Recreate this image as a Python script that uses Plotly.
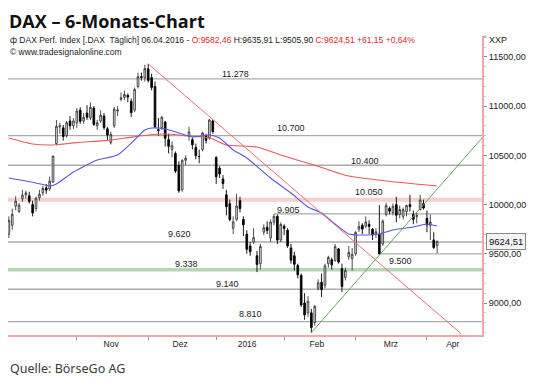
import plotly.graph_objects as go

# ---------------- data ----------------
dates = [
    "2015-10-05","2015-10-06","2015-10-07","2015-10-08","2015-10-09","2015-10-12","2015-10-13","2015-10-14",
    "2015-10-15","2015-10-16","2015-10-19","2015-10-20","2015-10-21","2015-10-22","2015-10-23","2015-10-26",
    "2015-10-27","2015-10-28","2015-10-29","2015-10-30",
    "2015-11-02","2015-11-03","2015-11-04","2015-11-05","2015-11-06","2015-11-09","2015-11-10","2015-11-11",
    "2015-11-12","2015-11-13","2015-11-16","2015-11-17","2015-11-18","2015-11-19","2015-11-20","2015-11-23",
    "2015-11-24","2015-11-25","2015-11-26","2015-11-27","2015-11-30",
    "2015-12-01","2015-12-02","2015-12-03","2015-12-04","2015-12-07","2015-12-08","2015-12-09","2015-12-10",
    "2015-12-11","2015-12-14","2015-12-15","2015-12-16","2015-12-17","2015-12-18","2015-12-21","2015-12-22",
    "2015-12-23","2015-12-28","2015-12-29","2015-12-30",
    "2016-01-04","2016-01-05","2016-01-06","2016-01-07","2016-01-08","2016-01-11","2016-01-12","2016-01-13",
    "2016-01-14","2016-01-15","2016-01-18","2016-01-19","2016-01-20","2016-01-21","2016-01-22","2016-01-25",
    "2016-01-26","2016-01-27","2016-01-28","2016-01-29",
    "2016-02-01","2016-02-02","2016-02-03","2016-02-04","2016-02-05","2016-02-08","2016-02-09","2016-02-10",
    "2016-02-11","2016-02-12","2016-02-15","2016-02-16","2016-02-17","2016-02-18","2016-02-19","2016-02-22",
    "2016-02-23","2016-02-24","2016-02-25","2016-02-26","2016-02-29",
    "2016-03-01","2016-03-02","2016-03-03","2016-03-04","2016-03-07","2016-03-08","2016-03-09","2016-03-10",
    "2016-03-11","2016-03-14","2016-03-15","2016-03-16","2016-03-17","2016-03-18","2016-03-21","2016-03-22",
    "2016-03-23","2016-03-24","2016-03-29","2016-03-30","2016-03-31",
    "2016-04-01","2016-04-04","2016-04-05","2016-04-06",
]

opens = [9700,9790,9985,9930,10060,10100,10090,10000,9960,10070,10120,10170,10160,10230,10620,10790,
         10780,10700,10850,10800,
         10830,10960,10850,10930,10880,10980,10800,10850,10900,10770,10630,10800,10950,11070,11090,11110,
         11050,10960,11200,11300,11290,
         11380,11290,11200,10760,10780,10840,10660,10560,10520,10400,10150,10450,10700,10660,10580,10490,
         10560,10700,10680,10850,
         10480,10370,10260,10100,10010,9760,9850,10040,9850,9700,9580,9620,9480,9400,9720,9770,9660,9820,
         9880,9640,
         9780,9740,9560,9480,9380,9280,9000,8900,8900,8800,9150,9210,9180,9400,9440,9430,9550,9350,9260,
         9470,9450,
         9500,9750,9790,9780,9800,9750,9700,9700,9600,9900,9960,9920,10000,9900,9880,9930,10000,9900,9880,
         9950,10010,
         9860,9790,9640,9582.46]
highs = [9880,9960,10085,10015,10150,10140,10130,10040,10080,10150,10190,10210,10285,10500,10860,10830,
         10810,10850,10900,10880,
         10980,10990,10930,11010,11040,11000,10860,10960,10930,10790,10740,10990,11000,11140,11160,11130,
         11080,11190,11340,11340,11420,
         11430,11330,11250,10880,10900,10850,10720,10640,10540,10440,10460,10500,10790,10680,10620,10560,
         10740,10720,10870,10860,
         10490,10390,10300,10150,10050,9880,10110,10080,9880,9740,9620,9760,9530,9600,9800,9830,9850,9905,
         9900,9820,
         9800,9760,9600,9520,9400,9300,9100,9070,8940,8980,9240,9300,9400,9480,9460,9600,9560,9400,9360,
         9580,9560,
         9730,9830,9810,9880,9840,9760,9760,9995,9850,10020,9980,10010,10080,9990,9970,10000,10100,9940,9920,
         10100,10050,
         9940,9900,9720,9635.91]
lows = [9660,9745,9945,9915,10030,10060,10010,9880,9930,10040,10090,10110,10140,10220,10600,10720,
        10650,10680,10760,10770,
        10780,10820,10820,10860,10860,10800,10760,10830,10760,10650,10610,10780,10900,11050,11060,11040,
        10890,10940,11180,11260,11250,
        11240,11160,10780,10700,10760,10590,10520,10480,10320,10120,10130,10400,10650,10560,10460,10420,
        10540,10620,10660,10720,
        10210,10270,10160,9890,9830,9700,9830,9920,9680,9500,9480,9600,9314,9340,9690,9700,9620,9790,
        9600,9620,
        9690,9560,9400,9330,9250,8960,8830,8860,8699,8770,9130,9060,9150,9360,9340,9420,9400,9110,9230,
        9440,9330,
        9480,9720,9700,9760,9700,9640,9660,9498,9580,9880,9900,9890,9820,9860,9850,9880,9930,9800,9810,
        9940,9950,
        9720,9640,9550,9505.90]
closes = [9840,9902,10035,9995,10096,10119,10032,9915,10064,10104,10164,10147,10238,10491,10795,10801,
          10692,10831,10801,10850,
          10951,10846,10887,10888,10988,10815,10832,10908,10782,10708,10713,10971,10959,11085,11119,11092,
          10934,11169,11300,11293,11382,
          11261,11190,10789,10752,10887,10673,10592,10598,10340,10140,10450,10470,10738,10608,10497,10488,
          10727,10653,10860,10743,
          10283,10310,10214,9979,9849,9825,9985,9960,9794,9545,9521,9664,9392,9574,9764,9736,9823,9880,
          9639,9798,
          9758,9581,9435,9393,9286,8980,8879,9018,8752,8967,9206,9135,9377,9463,9388,9573,9416,9167,9331,
          9513,9495,
          9717,9776,9751,9824,9778,9692,9723,9498,9831,9990,9933,9983,9892,9950,9948,9990,9979,9851,9887,
          10046,9966,
          9794,9822,9563.36,9624.51]

# moving averages at selected dates
ma_fast_dates = ["2015-10-05","2015-10-15","2015-10-21","2015-10-23","2015-10-30","2015-11-10","2015-11-18",
                 "2015-11-25","2015-11-30","2015-12-02","2015-12-08","2015-12-14","2015-12-18","2015-12-29",
                 "2016-01-05","2016-01-11","2016-01-15","2016-01-26","2016-02-03","2016-02-10","2016-02-16",
                 "2016-02-19","2016-02-26","2016-03-02","2016-03-10","2016-03-16","2016-03-24","2016-04-01",
                 "2016-04-06"]
ma_fast_vals = [10270,10220,10190,10210,10331,10453,10504,10657,10758,10778,10768,10728,10687,10707,
                10677,10555,10474,10270,10118,9976,9915,9830,9701,9691,9701,9742,9772,9803,9782]

ma_slow_dates = ["2015-10-05","2015-10-14","2015-10-22","2015-11-02","2015-11-12","2015-11-23","2015-12-01",
                 "2015-12-08","2015-12-17","2015-12-23","2015-12-30","2016-01-07","2016-01-20","2016-01-29",
                 "2016-02-12","2016-02-26","2016-03-14","2016-04-06"]
ma_slow_vals = [10677,10616,10606,10630,10650,10680,10707,10717,10697,10687,10667,10606,10585,10504,
                10400,10290,10240,10189]

# trend lines (trading-day index, value)
trend_down_x = [41, 133]
trend_down_y = [11430, 8690]
trend_up_x = [89, 141]
trend_up_y = [8699, 10748]

levels = [11278, 10700, 10400, 10050, 9905, 9620, 9500, 9338, 9140, 8810]
level_texts = ["11.278", "10.700", "10.400", "10.050", "9.905", "9.620", "9.500", "9.338", "9.140", "8.810"]

month_labels = ["Nov", "Dez", "2016", "Feb", "Mrz", "Apr"]
y_ticks = [9000, 9500, 10000, 10500, 11000, 11500]

# ---------------- styles / positions ----------------
level_start = [None, None, None, None, 78, None, 109, None, None, None]
level_label_x = [66.8, 82.9, 104.9, 106.0, 82.2, 50.2, 115.3, 52.3, 64.2, 71.2]
level_label_shift = [4.5, 8, 4.5, 8, 4, 7.5, -7, 5.5, 5.5, 7.5]
month_label_x = [30.1, 50.4, 70.1, 90.6, 112.4, 130.6]

X_RANGE = [-0.25, 139.2]
Y_RANGE = [8675, 11713]
OFF = 8                      # page body margin in the browser
W, H = 524, 373
ML, MT = 0, 28
PW, PH = 474, 299
MR, MB = W - ML - PW, H - MT - PH

def px_x(x):                 # page pixel -> paper x
    return (x - OFF - ML) / PW

def px_y(y):                 # page pixel -> paper y
    return (MT + PH - (y - OFF)) / PH

idx = {d: i for i, d in enumerate(dates)}
xs = list(range(len(dates)))

def de(v):
    return f"{v:.2f}".replace(".", ",")

fig = go.Figure()

fig.add_trace(go.Candlestick(
    x=xs, open=opens, high=highs, low=lows, close=closes,
    increasing=dict(line=dict(color="#3a3a3a", width=0.9), fillcolor="#ececec"),
    decreasing=dict(line=dict(color="#000000", width=0.9), fillcolor="#000000"),
    whiskerwidth=0, showlegend=False, hoverinfo="skip",
))

fig.add_trace(go.Scatter(x=[idx[d] for d in ma_slow_dates], y=ma_slow_vals, mode="lines",
                         line=dict(color="#e85a5a", width=1.1, shape="spline", smoothing=0.6),
                         showlegend=False, hoverinfo="skip"))
fig.add_trace(go.Scatter(x=[idx[d] for d in ma_fast_dates], y=ma_fast_vals, mode="lines",
                         line=dict(color="#5555e0", width=1.1, shape="spline", smoothing=0.6),
                         showlegend=False, hoverinfo="skip"))
fig.add_trace(go.Scatter(x=trend_down_x, y=trend_down_y, mode="lines",
                         line=dict(color="#e87070", width=1), showlegend=False, hoverinfo="skip"))
fig.add_trace(go.Scatter(x=trend_up_x, y=trend_up_y, mode="lines",
                         line=dict(color="#5fa85f", width=1), showlegend=False, hoverinfo="skip"))

shapes = []
annotations = []
for lv, txt, st, lx, sh in zip(levels, level_texts, level_start, level_label_x, level_label_shift):
    if lv == 10050:
        color, width = "rgba(240,160,160,0.5)", 4
    elif lv == 9338:
        color, width = "rgba(120,180,120,0.55)", 3.5
    else:
        color, width = "#ababab", 1.3
    if st is None:
        shapes.append(dict(type="line", xref="paper", yref="y", x0=0, x1=1, y0=lv, y1=lv,
                           line=dict(color=color, width=width), layer="below"))
    else:
        shapes.append(dict(type="line", xref="x", yref="y", x0=st, x1=X_RANGE[1], y0=lv, y1=lv,
                           line=dict(color=color, width=width), layer="below"))
    annotations.append(dict(x=lx, y=lv, xref="x", yref="y", text=txt, showarrow=False,
                            xanchor="center", yanchor="middle", yshift=sh,
                            font=dict(family="Liberation Sans", size=9, color="#1a1a1a")))

# month-start tick marks
month_starts = [i for i in range(1, len(dates)) if dates[i][5:7] != dates[i - 1][5:7]]

red = "#e3261f"
header = (f"ф DAX Perf. Index [.DAX  Täglich] 06.04.2016 - "
          f"<span style='color:{red}'>O:{de(opens[-1])}</span> H:{de(highs[-1])} L:{de(lows[-1])} "
          f"<span style='color:{red}'>C:{de(closes[-1])} +{de(closes[-1]-closes[-2])} "
          f"+{de((closes[-1]-closes[-2])/closes[-2]*100)}%</span>")

annotations += [
    dict(x=px_x(8), y=px_y(OFF), xref="paper", yref="paper", text="<b>DAX – 6-Monats-Chart</b>",
         showarrow=False, xanchor="left", yanchor="top", borderpad=0,
         font=dict(family="Open Sans", size=18, color="#111111")),
    dict(x=px_x(8), y=px_y(40), xref="paper", yref="paper", text=header,
         showarrow=False, xanchor="left", yanchor="middle",
         font=dict(family="Liberation Sans", size=8.5, color="#222222")),
    dict(x=px_x(8), y=px_y(52), xref="paper", yref="paper", text="© www.tradesignalonline.com",
         showarrow=False, xanchor="left", yanchor="middle",
         font=dict(family="Liberation Sans", size=8.5, color="#222222")),
    dict(x=px_x(487), y=px_y(40), xref="paper", yref="paper", text="XXP",
         showarrow=False, xanchor="left", yanchor="middle",
         font=dict(family="Liberation Sans", size=9, color="#222222")),
    dict(x=px_x(485), y=px_y(36), xref="paper", yref="paper", text="×",
         showarrow=False, xanchor="center", yanchor="middle",
         font=dict(family="Liberation Sans", size=7, color="#999999")),
    dict(x=px_x(8), y=px_y(368), xref="paper", yref="paper", text="Quelle: BörseGo AG",
         showarrow=False, xanchor="left", yanchor="middle",
         font=dict(family="Noto Sans", size=12.5, color="#3a3a3a")),
    dict(x=px_x(486), y=closes[-1], xref="paper", yref="y", text=de(closes[-1]),
         showarrow=False, xanchor="left", yanchor="middle",
         bgcolor="#f3f3f3", bordercolor="#8a8a8a", borderwidth=1, borderpad=2,
         font=dict(family="Liberation Sans", size=9.5, color="#111111")),
]

fig.update_layout(
    width=W, height=H,
    margin=dict(l=ML, r=MR, t=MT, b=MB, pad=0),
    paper_bgcolor="white", plot_bgcolor="white",
    showlegend=False,
    shapes=shapes, annotations=annotations,
    xaxis=dict(range=X_RANGE, showgrid=False, zeroline=False, rangeslider=dict(visible=False),
               showline=True, linecolor="#f2a6a6", linewidth=2,
               tickmode="array", tickvals=month_label_x, ticktext=month_labels, ticks="",
               tickfont=dict(family="Liberation Sans", size=8.5, color="#222222"),
               minor=dict(tickmode="array", tickvals=month_starts, ticks="outside", ticklen=3,
                          tickcolor="#999999", showgrid=False)),
    yaxis=dict(range=Y_RANGE, side="right", showgrid=False, zeroline=False,
               showline=True, linecolor="#f2a6a6", linewidth=2,
               tickmode="array", tickvals=y_ticks, ticktext=[de(v) for v in y_ticks],
               ticks="outside", ticklen=3, tickcolor="#888888",
               tickfont=dict(family="Liberation Sans", size=9, color="#222222"),
               minor=dict(dtick=100, ticks="outside", ticklen=2, tickcolor="#cccccc", showgrid=False)),
)

fig.write_html("out.html")
